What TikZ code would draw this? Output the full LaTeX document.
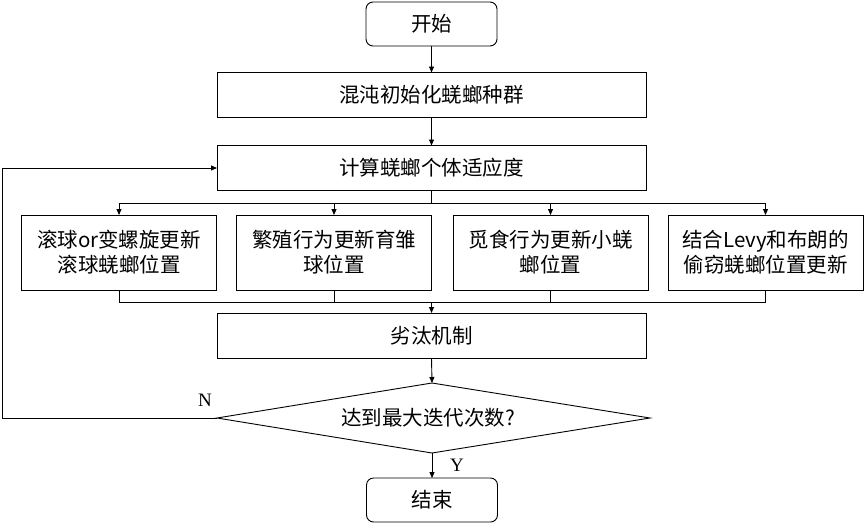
\documentclass[tikz,border=0pt]{standalone}
\usepackage{fontspec}
\setmainfont{Noto Sans CJK SC}
\newfontfamily\latinserif{Liberation Serif}
\usetikzlibrary{arrows.meta}
\begin{document}
\begin{tikzpicture}[x=1pt,y=-1pt,
  every node/.style={inner sep=0pt, outer sep=0pt},
  box/.style={draw, line width=0.9pt, font=\fontsize{20.5}{25}\selectfont, align=center},
  term/.style={box, rounded corners=7pt, minimum width=131pt, minimum height=44pt},
  wide/.style={box, minimum width=429pt, minimum height=45pt},
  sub/.style={box, minimum width=195pt, minimum height=75pt},
  dec/.style={font=\fontsize{20.5}{25}\selectfont},
  conn/.style={line width=0.9pt},
  arr/.style={conn, -{Triangle[length=6pt,width=5pt]}},
  lab/.style={font=\latinserif\fontsize{19}{22}\selectfont}]
\useasboundingbox (0,0) rectangle (864,525);
\node[term] (start) at (431.5,24) {开始};
\node[wide] (init) at (431.5,95) {混沌初始化蜣螂种群};
\node[wide] (fit) at (431.5,168) {计算蜣螂个体适应度};
\node[sub] (b1) at (119,252.5) {滚球or变螺旋更新\\滚球蜣螂位置};
\node[sub] (b2) at (334,252.5) {繁殖行为更新育雏\\球位置};
\node[sub] (b3) at (550.5,252.5) {觅食行为更新小蜣\\螂位置};
\node[sub] (b4) at (765.5,252.5) {结合Levy和布朗的\\偷窃蜣螂位置更新};
\node[wide] (elim) at (431.5,335.5) {劣汰机制};
\draw[line width=0.9pt] (217,418) coordinate (dl) -- (432,383) coordinate (dt) -- (650,418) coordinate (dr) -- (432,453) coordinate (db) -- cycle;
\node[dec] (dec) at (428,418) {达到最大迭代次数?};
\node[term] (end) at (432,500) {结束};
\coordinate (bus1) at (431.5,203);
\coordinate (bus2) at (431.5,302);
\coordinate (lft) at (2,418);
\coordinate (lft2) at (2,168);
% arrows
\draw[arr] (start) -- (init);
\draw[arr] (init) -- (fit);
\draw[conn] (fit.south) -- (bus1);
\draw[arr] (bus1) -| (b1.north);
\draw[arr] (bus1) -| (b2.north);
\draw[arr] (bus1) -| (b3.north);
\draw[arr] (bus1) -| (b4.north);
\draw[conn] (b1.south) |- (bus2);
\draw[conn] (b2.south) |- (bus2);
\draw[conn] (b3.south) |- (bus2);
\draw[conn] (b4.south) |- (bus2);
\draw[arr] (bus2) -- (elim.north);
\draw[arr] (elim.south) -- (dt);
\draw[arr] (db) -- (end.north);
\draw[arr] (dl) -- (lft) -- (lft2) -- (fit.west);
\node[lab] (N) at (205,400) {N};
\node[lab] (Y) at (457,465) {Y};
\end{tikzpicture}
\end{document}
